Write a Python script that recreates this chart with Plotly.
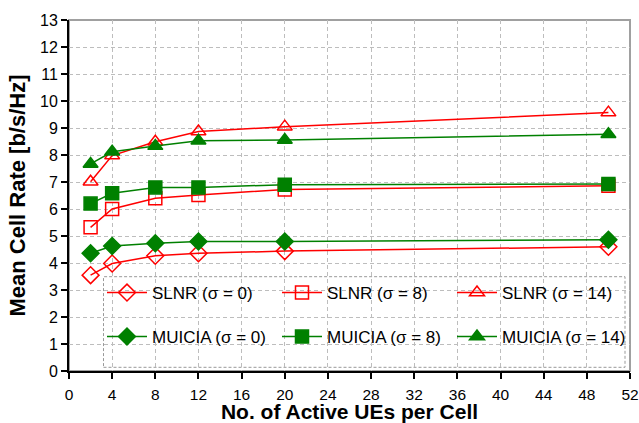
import plotly.graph_objects as go

x_ues = [2, 4, 8, 12, 20, 50]
slnr_s0 = [3.55, 3.98, 4.27, 4.36, 4.44, 4.6]
slnr_s8 = [5.32, 6.0, 6.4, 6.52, 6.72, 6.86]
slnr_s14 = [7.01, 7.98, 8.49, 8.87, 9.05, 9.57]
muicia_s0 = [4.36, 4.63, 4.73, 4.8, 4.8, 4.86]
muicia_s8 = [6.2, 6.58, 6.8, 6.8, 6.9, 6.93]
muicia_s14 = [7.67, 8.12, 8.33, 8.53, 8.56, 8.77]

x_ticks = list(range(0, 53, 4))
y_ticks = list(range(0, 14))

RED = "#FF0000"
GREEN = "#008000"
FONT = "Liberation Sans, Arial, sans-serif"

series = [
    ("SLNR (σ = 0)", slnr_s0, RED, "diamond-open", "legend"),
    ("SLNR (σ = 8)", slnr_s8, RED, "square-open", "legend"),
    ("SLNR (σ = 14)", slnr_s14, RED, "triangle-up-open", "legend"),
    ("MUICIA (σ = 0)", muicia_s0, GREEN, "diamond", "legend2"),
    ("MUICIA (σ = 8)", muicia_s8, GREEN, "square", "legend2"),
    ("MUICIA (σ = 14)", muicia_s14, GREEN, "triangle-up", "legend2"),
]

fig = go.Figure()
for name, ys, col, sym, lg in series:
    fig.add_trace(go.Scatter(
        x=x_ues, y=ys, name=name, mode="lines+markers", legend=lg,
        line=dict(color=col, width=1.5),
        marker=dict(symbol=sym, size=13, color=col, line=dict(color=col, width=1.5)),
    ))

W, H = 639, 423
L, R, T, B = 69, 630, 20, 371
PW, PH = R - L, B - T

def px(xs):
    return (xs - L) / PW

def py(ys):
    return (B - ys) / PH

# legend box (white, dashed border) drawn between grid and traces
fig.add_shape(type="rect", xref="paper", yref="paper",
              x0=px(103.5), x1=px(625), y0=py(367.3), y1=py(276.7),
              fillcolor="white", line=dict(color="#999999", width=1, dash="3px,2px"),
              layer="between")
# gray frame top/right
fig.add_shape(type="rect", xref="paper", yref="paper", x0=0, x1=1, y0=0, y1=1,
              line=dict(color="#A0A0A0", width=2), layer="below")

legend_common = dict(
    orientation="h", xanchor="left", yanchor="middle",
    font=dict(family=FONT, size=17, color="black"),
    bgcolor="rgba(0,0,0,0)", itemwidth=40, entrywidth=120,
    entrywidthmode="pixels", traceorder="normal",
)
fig.update_layout(
    width=W, height=H,
    margin=dict(l=L, r=W - R, t=T, b=H - B, autoexpand=False),
    paper_bgcolor="white", plot_bgcolor="white",
    font=dict(family=FONT, size=16, color="black"),
    legend=dict(x=px(102), y=py(293), **legend_common),
    legend2=dict(x=px(102), y=py(337), **legend_common),
    xaxis=dict(
        range=[0, 52], tickvals=x_ticks, ticktext=[str(v) for v in x_ticks],
        showline=True, linecolor="black", linewidth=2,
        ticks="outside", ticklen=6, tickcolor="black", tickwidth=1.5,
        showgrid=True, gridcolor="#BDBDBD", griddash="4px,3px", gridwidth=1,
        zeroline=False, ticklabelstandoff=2,
        title=dict(text="<b>No. of Active UEs per Cell</b>", font=dict(size=21), standoff=3),
        tickfont=dict(size=15.5),
    ),
    yaxis=dict(
        range=[0, 13], tickvals=y_ticks, ticktext=[str(v) for v in y_ticks],
        showline=True, linecolor="black", linewidth=2,
        ticks="outside", ticklen=6, tickcolor="black", tickwidth=1.5,
        showgrid=True, gridcolor="#BDBDBD", griddash="4px,3px", gridwidth=1,
        zeroline=False,
        title=dict(text="<b>Mean Cell Rate [b/s/Hz]</b>", font=dict(size=22), standoff=8),
        tickfont=dict(size=16),
    ),
)

# remove the default 8px page margin so the figure fills the window exactly
fig.write_html("out.html", config={"displayModeBar": False},
               post_script="document.body.style.margin='0';document.body.style.overflow='hidden';")
